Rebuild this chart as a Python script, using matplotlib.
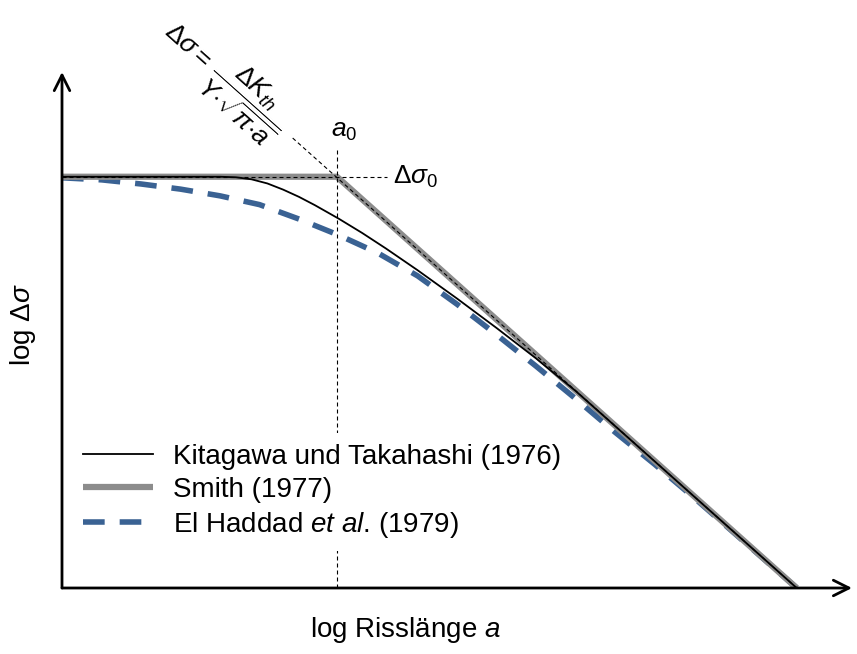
import matplotlib
matplotlib.use('Agg')
import matplotlib.pyplot as plt

plt.rcParams['font.family'] = ['Liberation Sans', 'DejaVu Sans']
plt.rcParams['mathtext.fontset'] = 'custom'
plt.rcParams['mathtext.rm'] = 'Liberation Sans'
plt.rcParams['mathtext.it'] = 'Liberation Sans:italic'
plt.rcParams['mathtext.bf'] = 'Liberation Sans:bold'
plt.rcParams['mathtext.sf'] = 'Liberation Sans'

# schematic values (log a, log delta sigma), arbitrary units 0..10
a0 = 3.48
ds0 = 7.97
a_end = 9.30

smith_x = [0, a0, a_end]
smith_y = [ds0, ds0, 0]

kt_x = [0, 2.0, 2.2, 2.4, 2.6, 2.8, 3.0, 3.2, 3.5, 3.8, 4.1, 4.5, 5.0, 5.5, 6.0, 6.5, 7.0, 9.3]
kt_y = [7.97, 7.97, 7.96, 7.92, 7.84, 7.72, 7.58, 7.42, 7.16, 6.88, 6.58, 6.16, 5.61, 5.04, 4.45, 3.82, 3.14, 0.0]

eh_x = [0, 0.5, 1.0, 1.5, 2.0, 2.5, 3.0, 3.5, 4.0, 4.5, 5.0, 5.5, 6.0, 6.5, 7.0, 7.5, 8.0, 9.3]
eh_y = [7.95, 7.91, 7.83, 7.73, 7.60, 7.43, 7.15, 6.84, 6.49, 6.05, 5.50, 4.91, 4.30, 3.67, 3.02, 2.40, 1.75, 0.0]

# construction lines
diag_x = [2.92, a_end]
diag_y = [8.72, 0]
hline_x = [0, 4.11]
vline_top = 8.49

labels = ['Kitagawa und Takahashi (1976)', 'Smith (1977)', r'El Haddad $et\ al$. (1979)']

fig = plt.figure(figsize=(8.57, 6.54), dpi=100)
ax = fig.add_axes([62/857, 66/654, 790/857, 516/654])
ax.set_xlim(0, 10)
ax.set_ylim(0, 10)
ax.axis('off')

dash_kw = dict(color='black', lw=0.8, dashes=(3.6, 2.7), zorder=4)
ax.plot(smith_x, smith_y, color='#8c8c8c', lw=4.5, solid_capstyle='butt', label=labels[1], zorder=3)
ax.plot(kt_x, kt_y, color='black', lw=1.3, label=labels[0], zorder=5)
ax.plot(eh_x, eh_y, color='#3a6293', lw=4, dashes=(3.9, 2.7), label=labels[2], zorder=2)
ax.plot(diag_x, diag_y, **dash_kw)
ax.plot(hline_x, [ds0, ds0], **dash_kw)
ax.plot([a0, a0], [0, vline_top], **dash_kw)

# axes arrows
arrow = dict(arrowstyle='->', lw=2, color='black', mutation_scale=28, shrinkA=0, shrinkB=0)
ax.annotate('', xy=(10, 0), xytext=(0, 0), arrowprops=arrow, annotation_clip=False)
ax.annotate('', xy=(0, 10), xytext=(0, 0), arrowprops=arrow, annotation_clip=False)

ax.text(2.05, 9.86, r'$\Delta\sigma{=}\,\dfrac{\Delta K_{th}}{Y{\cdot}\sqrt{\pi{\cdot}a}}$', fontsize=19,
        rotation=-41.8, rotation_mode='anchor', ha='center', va='center')
ax.text(3.57, 8.86, r'$a_0$', fontsize=19, ha='center', va='center')
ax.text(4.48, 7.97, r'$\Delta\sigma_0$', fontsize=19, ha='center', va='center')

fig.text(23/857, 1 - 325/654, r'log $\Delta\sigma$', rotation=90, fontsize=20, ha='center', va='center')
fig.text(405/857, 1 - 630/654, r'log Risslänge $a$', fontsize=20, ha='center', va='center')

h, l = ax.get_legend_handles_labels()
order = [1, 0, 2]
leg = ax.legend([h[i] for i in order], [l[i] for i in order], loc='center left',
                bbox_to_anchor=(72/857, 1 - 492/654), bbox_transform=fig.transFigure,
                fontsize=20, frameon=True, framealpha=1, edgecolor='none', fancybox=False,
                handlelength=2.5, handletextpad=0.72, labelspacing=0.25, borderaxespad=0,
                borderpad=0.4)
leg.set_zorder(6)

fig.savefig('out.png', dpi=100)
